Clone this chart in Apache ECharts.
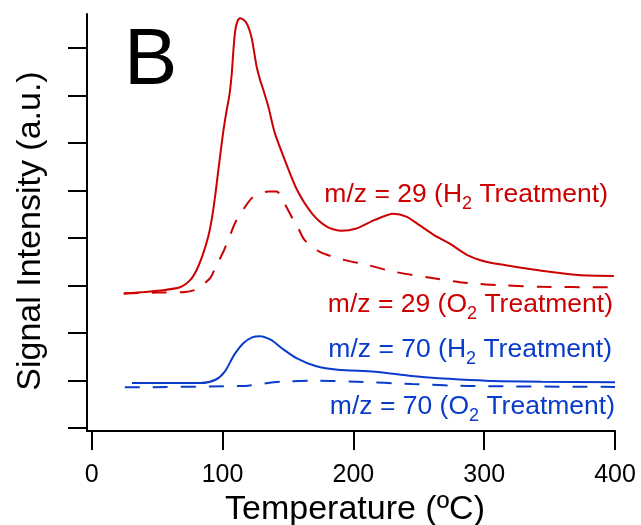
<!DOCTYPE html>
<html>
<head>
<meta charset="utf-8">
<script src="https://cdn.jsdelivr.net/npm/echarts@6/dist/echarts.min.js"></script>
<style>
  html, body { margin: 0; padding: 0; background: #ffffff; }
  #chart { width: 641px; height: 525px; }
</style>
</head>
<body>
<div id="chart"></div>
<script>
// Temperature (°C) and signal (a.u.) for each trace
var tempM29H2 = [24.5, 40, 52.2, 67.5, 75.2, 80.3, 85.3, 89.1, 91.7, 94.3, 96.8, 100.4, 103.2, 105.2, 107.0, 108.3, 109.6, 111.3, 113.4, 116.0, 118.5, 120.6, 122.4, 124.0, 126.0, 128.5, 131.2, 135.0, 140.0, 148.5, 157.0, 168.3, 179.7, 191.0, 202.3, 216.4, 230.6, 240.5, 250.5, 261.7, 273.1, 287.2, 301.4, 315.5, 343.9, 372.2, 399.1];
var sigM29H2  = [2.83, 2.86, 2.89, 2.96, 3.11, 3.33, 3.68, 4.03, 4.38, 4.87, 5.43, 6.21, 6.70, 7.00, 7.45, 7.95, 8.35, 8.56, 8.63, 8.60, 8.52, 8.38, 8.20, 7.95, 7.62, 7.35, 7.12, 6.77, 6.21, 5.58, 5.01, 4.52, 4.24, 4.15, 4.20, 4.38, 4.51, 4.45, 4.27, 4.06, 3.89, 3.64, 3.50, 3.43, 3.31, 3.22, 3.20];

var tempM29O2 = [24.5, 50, 71.3, 80.3, 90.4, 94.3, 100.6, 104.4, 109.5, 114.7, 122.3, 128.7, 135.0, 141.4, 146.5, 154.1, 158.0, 162.6, 174.0, 191.0, 210.8, 230.6, 258.9, 287.2, 315.5, 343.9, 394.7];
var sigM29O2  = [2.83, 2.85, 2.86, 2.92, 3.15, 3.36, 3.71, 3.96, 4.31, 4.55, 4.84, 4.94, 4.98, 4.98, 4.77, 4.38, 4.20, 3.96, 3.71, 3.55, 3.43, 3.29, 3.16, 3.05, 3.00, 2.97, 2.96];

var tempM70H2 = [30.8, 83.3, 94.7, 101.7, 108.8, 115.9, 123.0, 128.7, 137.1, 145.6, 156.9, 171.1, 188.1, 216.4, 244.8, 273.1, 301.4, 343.9, 400];
var sigM70H2  = [0.94, 0.94, 1.01, 1.18, 1.53, 1.78, 1.91, 1.93, 1.85, 1.67, 1.46, 1.30, 1.22, 1.18, 1.09, 1.03, 0.99, 0.97, 0.96];

var tempM70O2 = [25.3, 117.2, 128.7, 145.5, 173.8, 202.1, 244.8, 287.2, 400];
var sigM70O2  = [0.85, 0.88, 0.92, 0.97, 0.99, 0.97, 0.92, 0.88, 0.86];

var xTicks = [0, 100, 200, 300, 400];
var yTicks = [0, 1, 2, 3, 4, 5, 6, 7, 8];

var labelM29H2 = 'm/z = 29 (H{s|2} Treatment)';
var labelM29O2 = 'm/z = 29 (O{s|2} Treatment)';
var labelM70H2 = 'm/z = 70 (H{s|2} Treatment)';
var labelM70O2 = 'm/z = 70 (O{s|2} Treatment)';

var RED = '#cc0000';
var BLUE = '#0a3ccc';
var FONT = '"Liberation Sans", Arial, sans-serif';

function pairs(xs, ys) {
  return xs.map(function (x, i) { return [x, ys[i]]; });
}

function trace(name, xs, ys, color, dashed) {
  return {
    name: name,
    type: 'line',
    data: pairs(xs, ys),
    smooth: 0.25,
    showSymbol: false,
    symbol: 'none',
    silent: true,
    lineStyle: { color: color, width: 2, type: dashed ? [15, 13] : 'solid' }
  };
}

function curveLabel(text, right, y, color) {
  return {
    type: 'text',
    right: 641 - right,
    top: y - 18,
    style: {
      text: text,
      fill: color,
      fontSize: 26.5,
      fontFamily: FONT,
      lineHeight: 37,
      rich: {
        s: { fontSize: 18, fontFamily: FONT, fill: color, lineHeight: 18, verticalAlign: 'bottom' }
      }
    }
  };
}

var chart = echarts.init(document.getElementById('chart'), null, { renderer: 'canvas' });

chart.setOption({
  animation: false,
  backgroundColor: '#ffffff',
  grid: { left: 87, right: 26, top: 14, bottom: 94, containLabel: false },
  xAxis: {
    type: 'value',
    min: -3.6,
    max: 400,
    splitLine: { show: false },
    axisLine: { show: true, onZero: false, lineStyle: { color: '#000', width: 2 } },
    axisTick: { show: true, inside: false, length: 19, customValues: xTicks, lineStyle: { color: '#000', width: 2 } },
    axisLabel: { show: true, customValues: xTicks, margin: 32, color: '#000', fontSize: 25, fontFamily: FONT }
  },
  yAxis: {
    type: 'value',
    min: -0.07,
    max: 8.722,
    splitLine: { show: false },
    axisLine: { show: true, onZero: false, lineStyle: { color: '#000', width: 2 } },
    axisTick: { show: true, inside: false, length: 19, customValues: yTicks, lineStyle: { color: '#000', width: 2 } },
    axisLabel: { show: false }
  },
  graphic: [
    {
      type: 'text', left: 124, top: 16,
      style: { text: 'B', fill: '#000', fontSize: 80, fontFamily: FONT, lineHeight: 92 }
    },
    {
      type: 'text', x: 31, y: 231, rotation: Math.PI / 2,
      style: { text: 'Signal Intensity (a.u.)', fill: '#000', fontSize: 34, fontFamily: FONT, align: 'center', verticalAlign: 'middle' }
    },
    {
      type: 'text', x: 355, y: 510,
      style: { text: 'Temperature (\u00baC)', fill: '#000', fontSize: 34, fontFamily: FONT, align: 'center', verticalAlign: 'middle' }
    },
    curveLabel(labelM29H2, 608, 194, RED),
    curveLabel(labelM29O2, 613, 304, RED),
    curveLabel(labelM70H2, 612, 349, BLUE),
    curveLabel(labelM70O2, 615, 406, BLUE)
  ],
  series: [
    trace('m/z = 29 (H2 Treatment)', tempM29H2, sigM29H2, RED, false),
    trace('m/z = 29 (O2 Treatment)', tempM29O2, sigM29O2, RED, true),
    trace('m/z = 70 (H2 Treatment)', tempM70H2, sigM70H2, BLUE, false),
    trace('m/z = 70 (O2 Treatment)', tempM70O2, sigM70O2, BLUE, true)
  ]
});
</script>
</body>
</html>
